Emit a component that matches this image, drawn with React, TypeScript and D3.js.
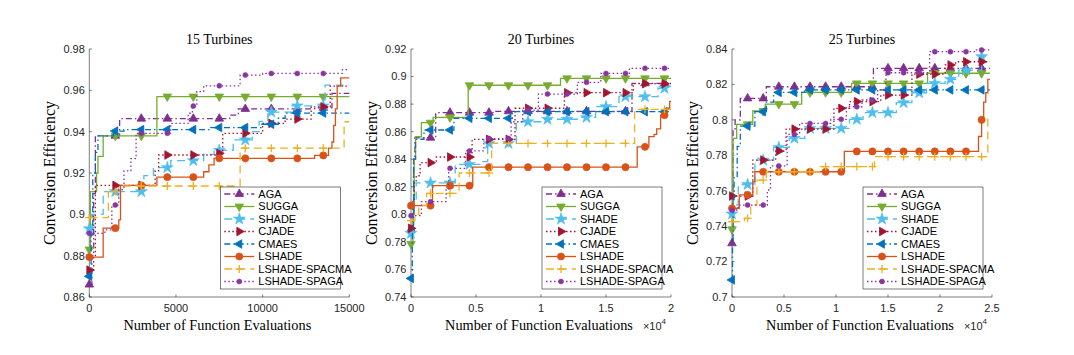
import React from 'react';
import * as d3 from 'd3';

type Pt = [number, number];

const seriesNames = ['AGA', 'SUGGA', 'SHADE', 'CJADE', 'CMAES', 'LSHADE', 'LSHADE-SPACMA', 'LSHADE-SPAGA'];
const seriesColors = ['#7E2F8E', '#77AC30', '#4DBEEE', '#A2142F', '#0072BD', '#D95319', '#EDB120', '#8A35A0'];
const seriesDash = ['6,3,1.5,3', '', '8,5', '1.5,2.5', '6,3,1.5,3', '', '8,5', '1.5,2.5'];
const seriesMarkers = ['triUp', 'triDown', 'star', 'triRight', 'triLeft', 'circle', 'plus', 'dot'];

// ---- 15 turbines ----
const t15_AGA: Pt[] = [[0, 0.866], [150, 0.88], [250, 0.91], [350, 0.938], [1750, 0.9463], [8100, 0.948], [8600, 0.951], [13000, 0.9515], [14000, 0.9585]];
const t15_SUGGA: Pt[] = [[0, 0.883], [60, 0.911], [420, 0.92], [500, 0.928], [800, 0.938], [3900, 0.957]];
const t15_SHADE: Pt[] = [[0, 0.893], [150, 0.9], [800, 0.911], [3150, 0.9187], [3700, 0.9226], [4700, 0.926], [6600, 0.929], [7200, 0.931], [8300, 0.936], [9400, 0.94], [9800, 0.945], [10300, 0.9495], [11700, 0.9525], [13600, 0.9625]];
const t15_CJADE: Pt[] = [[0, 0.873], [250, 0.88], [350, 0.914], [3800, 0.921], [4000, 0.9287], [7300, 0.9295], [7700, 0.9392], [10000, 0.944], [11300, 0.9461], [12800, 0.952], [13900, 0.962]];
const t15_CMAES: Pt[] = [[0, 0.87], [100, 0.89], [200, 0.92], [350, 0.93], [500, 0.938], [1400, 0.9403], [2000, 0.941], [7000, 0.942], [9900, 0.9436], [10900, 0.9465], [11300, 0.949]];
const t15_LSHADE: Pt[] = [[0, 0.8793], [800, 0.8933], [1700, 0.8973], [1800, 0.914], [3900, 0.918], [6600, 0.9206], [6900, 0.9239], [7200, 0.9271], [13000, 0.9285], [13800, 0.932], [14000, 0.935], [14100, 0.943], [14200, 0.951], [14300, 0.962], [14500, 0.966]];
const t15_SPACMA: Pt[] = [[0, 0.8984], [1100, 0.911], [1700, 0.9137], [8700, 0.932], [14700, 0.9448]];
const t15_SPAGA: Pt[] = [[0, 0.8908], [900, 0.8925], [1300, 0.9045], [1700, 0.912], [2000, 0.921], [2400, 0.927], [2700, 0.9392], [4700, 0.944], [5700, 0.9489], [5950, 0.9524], [6200, 0.9594], [6600, 0.9622], [8700, 0.9674], [10000, 0.9682], [14600, 0.97]];

// ---- 20 turbines ----
const t20_AGA: Pt[] = [[0, 0.789], [100, 0.8], [200, 0.84], [300, 0.8556], [1900, 0.8738], [6500, 0.8748], [17000, 0.8951]];
const t20_SUGGA: Pt[] = [[0, 0.7785], [150, 0.8], [250, 0.84], [350, 0.8563], [800, 0.8665], [1700, 0.8704], [4400, 0.8937], [11500, 0.8987]];
const t20_SHADE: Pt[] = [[0, 0.7862], [200, 0.81], [400, 0.8228], [3400, 0.8363], [5300, 0.8382], [5900, 0.8515], [8100, 0.8672], [10000, 0.869], [13000, 0.8704], [14200, 0.8782], [16000, 0.8854], [19000, 0.8915], [19800, 0.893]];
const t20_CJADE: Pt[] = [[0, 0.7898], [150, 0.81], [250, 0.8227], [400, 0.828], [700, 0.8375], [1950, 0.8416], [4700, 0.8544], [8000, 0.877], [11800, 0.8883], [17100, 0.8948]];
const t20_CMAES: Pt[] = [[0, 0.7535], [100, 0.79], [200, 0.84], [350, 0.8545], [1000, 0.8612], [3300, 0.8697], [7800, 0.8745]];
const t20_LSHADE: Pt[] = [[0, 0.8063], [1650, 0.8208], [4750, 0.8342], [17400, 0.849], [18300, 0.8564], [18700, 0.858], [18900, 0.862], [19200, 0.872], [19700, 0.877], [19900, 0.882]];
const t20_SPACMA: Pt[] = [[0, 0.7954], [300, 0.8], [600, 0.8065], [1200, 0.8152], [3700, 0.83], [6200, 0.8515], [17200, 0.8762]];
const t20_SPAGA: Pt[] = [[0, 0.799], [800, 0.8092], [2700, 0.8177], [2900, 0.8334], [4200, 0.846], [5600, 0.855], [7700, 0.8672], [8600, 0.8757], [9800, 0.8873], [12800, 0.8958], [14600, 0.9023], [16800, 0.906]];

// ---- 25 turbines ----
const t25_AGA: Pt[] = [[0, 0.7303], [100, 0.7943], [300, 0.8], [800, 0.8121], [3300, 0.8187], [13600, 0.8291]];
const t25_SUGGA: Pt[] = [[0, 0.7382], [100, 0.7896], [450, 0.7975], [2000, 0.805], [3200, 0.8089], [6700, 0.8155], [11500, 0.8206], [18800, 0.8263]];
const t25_SHADE: Pt[] = [[0, 0.7469], [200, 0.752], [600, 0.7635], [2200, 0.7773], [4000, 0.7845], [5500, 0.7896], [7000, 0.7952], [11300, 0.8003], [12600, 0.8041], [15800, 0.8097], [17300, 0.8153], [18700, 0.8206], [20500, 0.8229], [21800, 0.8281], [24000, 0.8357]];
const t25_CJADE: Pt[] = [[0, 0.757], [2000, 0.7773], [4200, 0.7824], [5200, 0.7948], [9800, 0.8065], [11300, 0.8103], [14300, 0.814], [17300, 0.8258], [20500, 0.831], [21500, 0.8328]];
const t25_CMAES: Pt[] = [[0, 0.7096], [50, 0.73], [100, 0.755], [200, 0.768], [500, 0.785], [800, 0.7965], [2200, 0.8046], [3300, 0.81], [4000, 0.8155], [7000, 0.8169]];
const t25_LSHADE: Pt[] = [[0, 0.7501], [700, 0.7576], [2000, 0.7651], [2200, 0.7707], [10800, 0.7822], [23700, 0.7906], [24000, 0.8], [24200, 0.81], [24400, 0.8153], [24600, 0.8228]];
const t25_SPACMA: Pt[] = [[0, 0.7425], [1200, 0.7444], [1800, 0.752], [2400, 0.766], [3300, 0.7707], [8500, 0.7736], [13700, 0.7792], [24600, 0.8024]];
const t25_SPAGA: Pt[] = [[0, 0.7491], [600, 0.7519], [3400, 0.7604], [3700, 0.774], [5300, 0.7918], [6500, 0.798], [9500, 0.8003], [11000, 0.8074], [12500, 0.8112], [14000, 0.8169], [14800, 0.8266], [19000, 0.8385], [23500, 0.8395]];

const titles = ['15 Turbines', '20 Turbines', '25 Turbines'];
const xEnds = [15000, 20000, 24800];
const xMaxes = [15000, 20000, 25000];
const yDomains: [number, number][] = [[0.86, 0.98], [0.74, 0.92], [0.7, 0.84]];
const yTicks1 = [0.86, 0.88, 0.9, 0.92, 0.94, 0.96, 0.98];
const yTickLabels1 = ['0.86', '0.88', '0.9', '0.92', '0.94', '0.96', '0.98'];
const yTicks2 = [0.74, 0.76, 0.78, 0.8, 0.82, 0.84, 0.86, 0.88, 0.9, 0.92];
const yTickLabels2 = ['0.74', '0.76', '0.78', '0.8', '0.82', '0.84', '0.86', '0.88', '0.9', '0.92'];
const yTicks3 = [0.7, 0.72, 0.74, 0.76, 0.78, 0.8, 0.82, 0.84];
const yTickLabels3 = ['0.7', '0.72', '0.74', '0.76', '0.78', '0.8', '0.82', '0.84'];
const xTicks1 = [0, 5000, 10000, 15000];
const xTickLabels1 = ['0', '5000', '10000', '15000'];
const xTicks2 = [0, 5000, 10000, 15000, 20000];
const xTickLabels2 = ['0', '0.5', '1', '1.5', '2'];
const xTicks3 = [0, 5000, 10000, 15000, 20000, 25000];
const xTickLabels3 = ['0', '0.5', '1', '1.5', '2', '2.5'];
const markerStep = 1500;

const panelData = [
  [t15_AGA, t15_SUGGA, t15_SHADE, t15_CJADE, t15_CMAES, t15_LSHADE, t15_SPACMA, t15_SPAGA],
  [t20_AGA, t20_SUGGA, t20_SHADE, t20_CJADE, t20_CMAES, t20_LSHADE, t20_SPACMA, t20_SPAGA],
  [t25_AGA, t25_SUGGA, t25_SHADE, t25_CJADE, t25_CMAES, t25_LSHADE, t25_SPACMA, t25_SPAGA],
];
const yTickSets = [yTicks1, yTicks2, yTicks3];
const yTickLabelSets = [yTickLabels1, yTickLabels2, yTickLabels3];
const xTickSets = [xTicks1, xTicks2, xTicks3];
const xTickLabelSets = [xTickLabels1, xTickLabels2, xTickLabels3];
const showExp = [false, true, true];

const panelLefts = [89.3, 411, 732];
const panelW = 260;
const TOP = 49;
const BOTTOM = 297;
const SANS = 'Liberation Sans, Arial, sans-serif';
const SERIF = 'Liberation Serif, Times New Roman, serif';
const AX = '#262626';

function stepAt(pts: Pt[], x: number) {
  let v = pts[0][1];
  for (const p of pts) if (p[0] <= x) v = p[1];
  return v;
}

const triPath = d3.symbol(d3.symbolTriangle, 32)() as string;
const starPath = d3.symbol(d3.symbolStar, 44)() as string;

function Marker({ type, x, y, color }: { type: string; x: number; y: number; color: string }) {
  const t = `translate(${x},${y})`;
  switch (type) {
    case 'triUp':
      return <path d={triPath} transform={t} fill={color} stroke={color} strokeWidth={0.8} />;
    case 'triDown':
      return <path d={triPath} transform={`${t} rotate(180)`} fill={color} stroke={color} strokeWidth={0.8} />;
    case 'triRight':
      return <path d={triPath} transform={`${t} rotate(90)`} fill={color} stroke={color} strokeWidth={0.8} />;
    case 'triLeft':
      return <path d={triPath} transform={`${t} rotate(-90)`} fill={color} stroke={color} strokeWidth={0.8} />;
    case 'star':
      return <path d={starPath} transform={t} fill={color} stroke={color} strokeWidth={0.6} />;
    case 'circle':
      return <circle cx={x} cy={y} r={3.6} fill={color} stroke={color} strokeWidth={0.6} />;
    case 'dot':
      return <circle cx={x} cy={y} r={2.5} fill={color} stroke={color} strokeWidth={0.5} />;
    case 'plus':
      return (
        <g stroke={color} strokeWidth={1.3}>
          <line x1={x - 4} x2={x + 4} y1={y} y2={y} />
          <line x1={x} x2={x} y1={y - 4} y2={y + 4} />
        </g>
      );
    default:
      return null;
  }
}

function Panel({ idx }: { idx: number }) {
  const left = panelLefts[idx];
  const right = left + panelW;
  const x = d3.scaleLinear().domain([0, xMaxes[idx]]).range([left, right]);
  const y = d3.scaleLinear().domain(yDomains[idx]).range([BOTTOM, TOP]);
  const end = xEnds[idx];
  const line = d3
    .line<Pt>()
    .x((d) => x(d[0]))
    .y((d) => y(d[1]))
    .curve(d3.curveStepAfter);
  const markerXs = d3.range(0, end, markerStep);
  const legendX = right - 129;
  const legendY = 187;
  const cx = (left + right) / 2;
  return (
    <g>
      <text x={cx} y={44} textAnchor="middle" fontFamily={SERIF} fontSize={14} fill="#000">
        {titles[idx]}
      </text>
      <line x1={left} x2={left} y1={TOP} y2={BOTTOM} stroke={AX} strokeWidth={0.6} />
      <line x1={left} x2={right} y1={BOTTOM} y2={BOTTOM} stroke={AX} strokeWidth={0.6} />
      {yTickSets[idx].map((v, i) => (
        <g key={'y' + i}>
          <line x1={left} x2={left + 2.6} y1={y(v)} y2={y(v)} stroke={AX} strokeWidth={0.6} />
          <text x={left - 4.5} y={y(v)} dy="0.35em" textAnchor="end" fontFamily={SANS} fontSize={11} fill={AX}>
            {yTickLabelSets[idx][i]}
          </text>
        </g>
      ))}
      {xTickSets[idx].map((v, i) => (
        <g key={'x' + i}>
          <line x1={x(v)} x2={x(v)} y1={BOTTOM} y2={BOTTOM - 2.6} stroke={AX} strokeWidth={0.6} />
          <text x={x(v)} y={312} textAnchor="middle" fontFamily={SANS} fontSize={11} fill={AX}>
            {xTickLabelSets[idx][i]}
          </text>
        </g>
      ))}
      {showExp[idx] && (
        <text x={right - 5} y={330} textAnchor="end" fontFamily={SANS} fontSize={11} fill={AX}>
          ×10<tspan dy={-6} fontSize={8}>4</tspan>
        </text>
      )}
      <text x={cx - 2} y={330} textAnchor="middle" fontFamily={SERIF} fontSize={14.3} fill="#000">
        Number of Function Evaluations
      </text>
      <text
        transform={`translate(${left - 34},${(TOP + BOTTOM) / 2}) rotate(-90)`}
        textAnchor="middle"
        fontFamily={SERIF}
        fontSize={16}
        fill="#000"
      >
        Conversion Efficiency
      </text>
      {panelData[idx].map((pts, s) => {
        const full: Pt[] = [...pts, [end, pts[pts.length - 1][1]]];
        return (
          <g key={'s' + s}>
            <path
              d={line(full) as string}
              fill="none"
              stroke={seriesColors[s]}
              strokeWidth={1.3}
              strokeDasharray={seriesDash[s] || undefined}
            />
            {markerXs.map((mx, k) => (
              <Marker key={k} type={seriesMarkers[s]} x={x(mx)} y={y(stepAt(pts, mx))} color={seriesColors[s]} />
            ))}
          </g>
        );
      })}
      <rect x={legendX} y={legendY} width={120} height={102} fill="#fff" stroke={AX} strokeWidth={0.6} />
      {seriesNames.map((n, s) => {
        const ly = 194 + s * 12.5;
        return (
          <g key={'l' + s}>
            <line
              x1={legendX + 4}
              x2={legendX + 34}
              y1={ly}
              y2={ly}
              stroke={seriesColors[s]}
              strokeWidth={1.3}
              strokeDasharray={seriesDash[s] || undefined}
            />
            <Marker type={seriesMarkers[s]} x={legendX + 19} y={ly} color={seriesColors[s]} />
            <text x={legendX + 38} y={ly} dy="0.35em" fontFamily={SANS} fontSize={11} fill="#000">
              {n}
            </text>
          </g>
        );
      })}
    </g>
  );
}

export default function App() {
  return (
    <svg
      width={1074}
      height={355}
      viewBox="0 0 1074 355"
      style={{ position: 'absolute', left: 0, top: 0, background: '#fff' }}
    >
      <rect x={0} y={0} width={1074} height={355} fill="#fff" />
      {[0, 1, 2].map((i) => (
        <Panel key={i} idx={i} />
      ))}
    </svg>
  );
}
